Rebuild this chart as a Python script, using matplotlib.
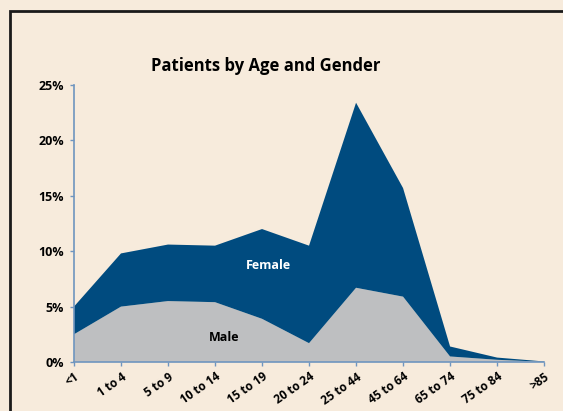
import matplotlib.pyplot as plt
from matplotlib.patches import Rectangle

# Age groups and shares of patients (percent)
age_groups = ['<1', '1 to 4', '5 to 9', '10 to 14', '15 to 19', '20 to 24',
              '25 to 44', '45 to 64', '65 to 74', '75 to 84', '>85']
male = [2.5, 5.0, 5.5, 5.4, 3.9, 1.7, 6.7, 5.9, 0.5, 0.2, 0.02]
female = [2.5, 4.8, 5.1, 5.1, 8.1, 8.8, 16.7, 9.8, 0.9, 0.2, 0.03]
y_ticks = [0, 5, 10, 15, 20, 25]

bg = '#f7ebdc'
blue = '#004b7f'
grey = '#bebfc1'
axis_col = '#6f95bf'
font = ['Open Sans', 'DejaVu Sans']

fig = plt.figure(figsize=(5.63, 4.11), dpi=100, facecolor=bg)
ax = fig.add_axes([0.1314, 0.1192, 0.835, 0.674])
ax.set_facecolor(bg)

# outer frame (runs off the right and bottom edges)
fig.patches.append(Rectangle((10 / 563, -0.1), 1.2, 1 - 11 / 411 + 0.1,
                             transform=fig.transFigure, fill=False,
                             edgecolor='#1a1a1a', linewidth=2))

x = list(range(len(age_groups)))
ax.stackplot(x, male, female, colors=[grey, blue], linewidth=0)

ax.set_xlim(0, len(age_groups) - 1)
ax.set_ylim(0, 25)
ax.set_yticks(y_ticks)
ax.set_yticklabels([f'{t}%' for t in y_ticks], fontweight='bold',
                   fontsize=9, family=font)
ax.set_xticks(x)
ax.set_xticklabels(age_groups, rotation=35, ha='right', rotation_mode='anchor',
                   fontweight='bold', fontsize=8.5, family=font)

for side in ['top', 'right']:
    ax.spines[side].set_visible(False)
for side in ['left', 'bottom']:
    ax.spines[side].set_color(axis_col)
    ax.spines[side].set_linewidth(1.2)
ax.tick_params(colors=axis_col, length=3, width=1, labelcolor='black')
ax.tick_params(axis='y', pad=4)
ax.tick_params(axis='x', pad=3)

ax.text(4.13, 8.75, 'Female', color='white', fontweight='bold', fontsize=9,
        ha='center', va='center', family=font)
ax.text(3.2, 2.25, 'Male', color='black', fontweight='bold', fontsize=9,
        ha='center', va='center', family=font)

fig.text(266 / 563, 1 - 66 / 411, 'Patients by Age and Gender',
         fontweight='bold', fontsize=12, ha='center', va='center', family=font)

plt.savefig('out.png', dpi=100, facecolor=bg)
